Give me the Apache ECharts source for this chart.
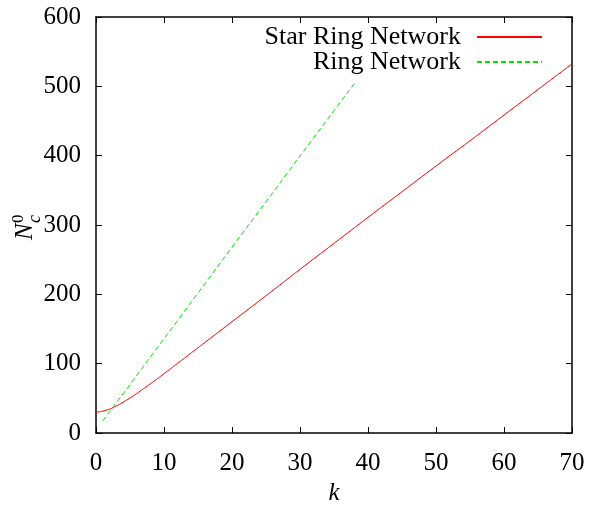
<!DOCTYPE html>
<html>
<head>
<meta charset="utf-8">
<script src="https://cdn.jsdelivr.net/npm/echarts@6/dist/echarts.min.js"></script>
<style>
html,body{margin:0;padding:0;background:#fff;}
#chart{width:599px;height:505px;}
</style>
</head>
<body>
<div id="chart"></div>
<script>
// Data
var starK = [0, 1, 2, 3, 4, 5, 6, 7, 8, 9, 10, 12, 14, 16, 20, 25, 30, 35, 40, 45, 50, 55, 60, 65, 70];
var starN = [30, 31.5, 34.5, 39, 44.5, 50.5, 57, 64, 71, 78, 85.5, 100.5, 115.5, 130.5, 160.5, 198, 236, 273.5, 311, 348, 385, 421.5, 458.5, 495.5, 532.5];
var ringK = [1, 5, 10, 15, 20, 25, 30, 35, 38];
var ringN = [17.5, 70, 136, 202, 268, 333.5, 399.5, 465, 504];
var xTicks = [0, 10, 20, 30, 40, 50, 60, 70];
var yTicks = [0, 100, 200, 300, 400, 500, 600];
var seriesNames = ['Star Ring Network', 'Ring Network'];

var FONT = '"Liberation Serif", "DejaVu Serif", serif';
function pairs(xs, ys){ return xs.map(function(x,i){ return [x, ys[i]]; }); }

var chart = echarts.init(document.getElementById('chart'), null, {renderer:'canvas'});
var axisLineStyle = {color:'#000', width:1.5};
var commonX = {type:'value', min:0, max:70, interval:10, splitLine:{show:false}};
var commonY = {type:'value', min:0, max:600, interval:100, splitLine:{show:false}};
var tick = {inside:true, length:6, lineStyle:{color:'#000', width:1}};
function legendFor(name, top){
  return {data:[name], orient:'horizontal', right:51, top:top, align:'right', itemWidth:65, itemHeight:14,
    itemStyle:{opacity:0},
    textStyle:{fontFamily:FONT, fontSize:26, color:'#000', padding:[0,11,0,0]}};
}
chart.setOption({
  animation:false,
  backgroundColor:'#fff',
  grid:{left:96, right:27, top:17, bottom:72, containLabel:false, outerBoundsMode:'none'},
  legend:[legendFor(seriesNames[0], 19), legendFor(seriesNames[1], 44)],
  xAxis:[
    Object.assign({}, commonX, {position:'bottom', axisLine:{onZero:false, lineStyle:axisLineStyle},
      axisTick:tick,
      axisLabel:{fontFamily:FONT, fontSize:25, color:'#000', margin:18,
        formatter:function(v){ return xTicks.indexOf(v) >= 0 ? String(v) : ''; }},
      name:'k', nameLocation:'middle', nameGap:47,
      nameTextStyle:{fontFamily:FONT, fontSize:25, fontStyle:'italic', color:'#000'}}),
    Object.assign({}, commonX, {position:'top', axisLine:{onZero:false, lineStyle:axisLineStyle},
      axisTick:tick, axisLabel:{show:false}})
  ],
  yAxis:[
    Object.assign({}, commonY, {position:'left', axisLine:{onZero:false, lineStyle:axisLineStyle},
      axisTick:tick,
      axisLabel:{fontFamily:FONT, fontSize:25, color:'#000', margin:15,
        formatter:function(v){ return yTicks.indexOf(v) >= 0 ? String(v) : ''; }}}),
    Object.assign({}, commonY, {position:'right', axisLine:{onZero:false, lineStyle:axisLineStyle},
      axisTick:tick, axisLabel:{show:false}})
  ],
  graphic:[{
    type:'group', x:38, y:240, rotation:Math.PI/2,
    children:[
      {type:'text', x:0, y:0, style:{text:'N', fontFamily:FONT, fontSize:25, fontStyle:'italic', fill:'#000', textAlign:'left', textVerticalAlign:'bottom'}},
      {type:'text', x:17, y:6, style:{text:'c', fontFamily:FONT, fontSize:18, fontStyle:'italic', fill:'#000', textAlign:'left', textVerticalAlign:'bottom'}},
      {type:'text', x:17, y:-11, style:{text:'0', fontFamily:FONT, fontSize:17, fill:'#000', textAlign:'left', textVerticalAlign:'bottom'}}
    ]
  }],
  series:[
    {name:seriesNames[0], type:'line', data:pairs(starK, starN), symbol:'none', smooth:true,
     lineStyle:{color:'#ff0000', width:1}, itemStyle:{color:'#ff0000'}},
    {name:seriesNames[1], type:'line', data:pairs(ringK, ringN), symbol:'none',
     lineStyle:{color:'#00e600', width:1, type:[5,3]}, itemStyle:{color:'#00e600'}}
  ]
});
</script>
</body>
</html>
